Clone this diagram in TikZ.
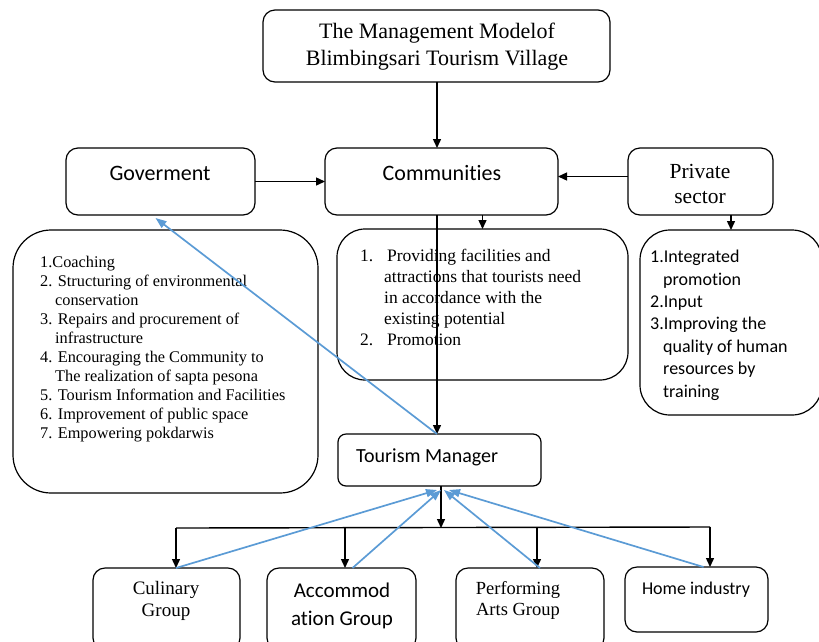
\documentclass[tikz,border=0pt]{standalone}
\usepackage{fontspec}
\setmainfont{Liberation Serif}
\newfontfamily\calibri[Ligatures={NoCommon,NoContextual}]{Carlito}
\usetikzlibrary{arrows.meta,positioning}

\definecolor{backblue}{RGB}{91,155,213}
\newcommand{\sz}[2]{\fontsize{#1}{#2}\selectfont}

\tikzset{
  box/.style={draw, line width=1.2pt, rounded corners=12pt, inner sep=0pt, outer sep=0pt, anchor=north west},
  txt/.style={inner sep=0pt, align=center},
  go/.style={-{Triangle[length=9pt,width=8pt]}, line width=1.4pt},
  back/.style={-{Triangle[length=11pt,width=8pt]}, draw=backblue, line width=1.7pt}
}

\begin{document}
\begin{tikzpicture}[x=1pt,y=-1pt]
  \clip (0,0) rectangle (819,641);

  % top level
  \node[box, minimum width=347pt, minimum height=72pt] (title) at (263,10) {};
  \node[txt, font=\sz{22}{27}] (titletext) at (437,47) {The Management Modelof\\Blimbingsari Tourism Village};

  \node[box, minimum width=189pt, minimum height=67pt] (gov) at (66,148) {};
  \node[txt, font=\calibri\sz{22}{26}] (govtext) at (160,173) {Goverment};
  \node[box, minimum width=233pt, minimum height=67pt] (comm) at (325,148) {};
  \node[txt, font=\calibri\sz{22}{26}] (commtext) at (442,173) {Communit\kern0pt ies};
  \node[box, minimum width=145pt, minimum height=67pt] (priv) at (628,148) {};
  \node[txt, font=\sz{21.5}{25}] (privtext) at (700,184) {Private\\sector};

  % lists
  \node[box, rounded corners=38pt, minimum width=305pt, minimum height=263pt] (govlist) at (13,230) {};
  \node[inner sep=0pt, anchor=north west, align=left, font=\sz{16.3}{19}] (govlisttext) at (40,256) {%
    1.Coaching\\
    2. Structuring of environmental\\
    \hspace*{15pt}conservation\\
    3. Repairs and procurement of\\
    \hspace*{15pt}infrastructure\\
    4. Encouraging the Community to\\
    \hspace*{15pt}The realization of sapta pesona\\
    5. Tourism Information and Facilities\\
    6. Improvement of public space\\
    7. Empowering pokdarwis};

  \node[box, rounded corners=28pt, minimum width=291pt, minimum height=151pt] (commlist) at (337,229) {};
  \node[inner sep=0pt, anchor=north west, align=left, font=\sz{17.5}{21}] (commlisttext) at (360,249) {%
    \makebox[27pt][l]{1.}Providing facilities and\\
    \hspace*{24pt}attractions that tourists need\\
    \hspace*{24pt}in accordance with the\\
    \hspace*{24pt}existing potential\\
    \makebox[27pt][l]{2.}Promotion};

  \node[box, rounded corners=30pt, minimum width=182pt, minimum height=185pt] (privlist) at (640,230) {};
  \node[inner sep=0pt, anchor=north west, align=left, font=\calibri\sz{18}{22.4}] (privlisttext) at (650,250) {%
    1.Integrated\\
    \hspace*{13pt}promotion\\
    2.Input\\
    3.Improving the\\
    \hspace*{13pt}quality of human\\
    \hspace*{13pt}resources by\\
    \hspace*{13pt}training};

  % manager and groups
  \node[box, rounded corners=8pt, minimum width=203pt, minimum height=52pt] (tm) at (338,434) {};
  \node[inner sep=0pt, anchor=west, font=\calibri\sz{20}{24}] (tmtext) at (356,457) {Tourism Manager};

  \node[box, minimum width=147pt, minimum height=82pt] (cul) at (93,568) {};
  \node[txt, font=\sz{19}{22}] (cultext) at (166,601) {Culinary\\Group};
  \node[box, minimum width=149pt, minimum height=82pt] (acc) at (267,568) {};
  \node[txt, font=\calibri\sz{21}{28}] (acctext) at (342,606) {Accommod\\ation Group};
  \node[box, minimum width=148pt, minimum height=82pt] (perf) at (456,568) {};
  \node[txt, font=\sz{18.5}{21}] (perftext) at (518,600) {Performing\\Arts Group};
  \node[box, minimum width=143pt, minimum height=65pt] (home) at (625,567) {};
  \node[txt, font=\calibri\sz{18}{22}] (hometext) at (696,590) {Home industry};

  % black links
  \draw[go] (titletext |- title.south) -- (titletext |- comm.north);
  \draw[go] (gov.east) -- (gov.east -| comm.west);
  \draw[go] ([yshift=5pt]priv.west) -- ([yshift=5pt]priv.west -| comm.east);
  \draw[go] (commlist.north |- comm.south) -- (commlist.north);
  \draw[go] (privlist.north |- priv.south) -- (privlist.north);
  \draw[go] (titletext |- comm.south) -- (titletext |- tm.north);

  \coordinate (bar) at (441,528);
  \coordinate (b1) at (176,528);
  \coordinate (b2) at (345,528);
  \coordinate (b3) at (537,528);
  \coordinate (b4) at (710,527);
  \draw[go] (bar |- tm.south) -- (bar);
  \draw[line width=1.4pt] (b1) -- (b4);
  \draw[go] (b1) -- (b1 |- cul.north);
  \draw[go] (b2) -- (b2 |- acc.north);
  \draw[go] (b3) -- (b3 |- perf.north);
  \draw[go] (b4) -- (b4 |- home.north);

  % blue links back
  \coordinate (h1) at (437,490);
  \coordinate (h2) at (441,490);
  \coordinate (h3) at (444,490);
  \coordinate (h4) at (449,490);
  \draw[back] (titletext |- tm.north) -- ([xshift=-5pt,yshift=-3pt]gov.south);
  \draw[back] (b1 |- cul.north) -- (h1);
  \draw[back] ([xshift=11pt]acc.north) -- (h2);
  \draw[back] ([xshift=10pt]perf.north) -- (h3);
  \draw[back] ([xshift=7pt]home.north) -- (h4);
\end{tikzpicture}
\end{document}
